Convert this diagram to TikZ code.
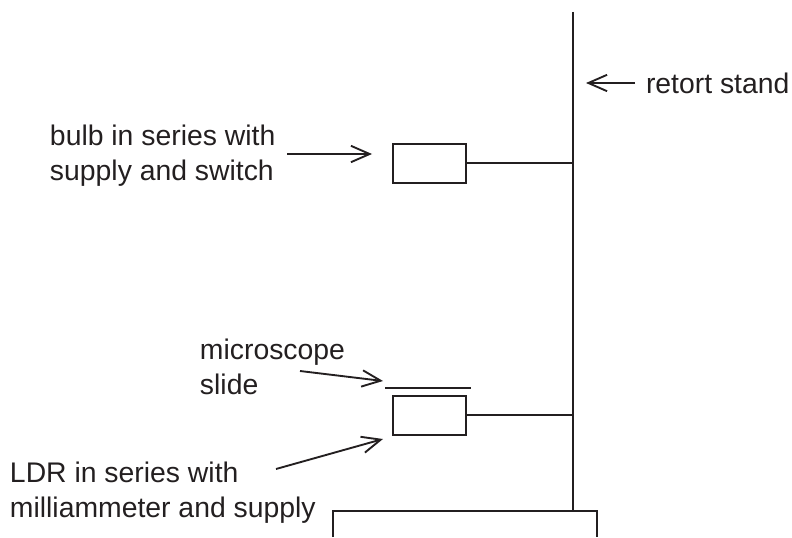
\documentclass[tikz,border=0pt]{standalone}
\usepackage{fontspec}
\setmainfont{Liberation Sans}
\usetikzlibrary{arrows.meta}
\definecolor{ink}{HTML}{231F20}
\tikzset{
	lbl/.style={inner sep=0pt, align=left, text=ink, font=\fontsize{24.2}{30}\selectfont},
	box/.style={draw=ink, line width=1.7pt, minimum width=2.19cm, minimum height=1.19cm, inner sep=0pt},
	pointer/.style={line width=1.6pt, -{Straight Barb[length=16pt,width=14pt]}}
}
\begin{document}
\begin{tikzpicture}[x=0.03cm, y=-0.03cm, line width=1.7pt, color=ink]
	%%%%% START %%%%%
	\useasboundingbox (0, 0) rectangle (792, 537);
	
	\coordinate (standtop) at (573, 12);
	\coordinate (standfoot) at (573, 511);
	\draw (standtop) -- (standfoot);
	
	\node[box] (bulb) at (429, 163.5) {};
	\coordinate (bulbclamp) at (573, 163);
	\draw (bulb.east |- bulbclamp) -- (bulbclamp);
	
	\node[box] (ldr) at (429, 415.5) {};
	\coordinate (ldrclamp) at (573, 415);
	\draw (ldr.east |- ldrclamp) -- (ldrclamp);
	
	\coordinate (slideleft) at (385, 388);
	\coordinate (slideright) at (471, 388);
	\draw (slideleft) -- (slideright);
	
	\coordinate (baseleft) at (333, 537);
	\coordinate (basetopleft) at (333, 511);
	\coordinate (basetopright) at (597, 511);
	\coordinate (baseright) at (597, 537);
	\draw (baseleft) -- (basetopleft) -- (basetopright) -- (baseright);
	
	\node[lbl, anchor=west] (standlbl) at (645, 83) {retort stand};
	\coordinate (standpt) at (586, 83);
	\draw[pointer] (standlbl.west) ++(-10, 0) -- (standpt);
	
	\node[lbl, anchor=west] (bulblbl) at (49, 156) {bulb in series with\\supply and switch};
	\coordinate (bulbtail) at (287, 154);
	\coordinate (bulbpt) at (372, 154);
	\draw[pointer] (bulbtail) -- (bulbpt);
	
	\node[lbl, anchor=west] (slidelbl) at (199, 367) {microscope\\slide};
	\coordinate (slidetail) at (300, 371);
	\coordinate (slidept) at (383, 381);
	\draw[pointer] (slidetail) -- (slidept);
	
	\node[lbl, anchor=west] (ldrlbl) at (9, 492.5) {LDR in series with\\milliammeter and supply};
	\coordinate (ldrtail) at (276, 469);
	\coordinate (ldrpt) at (383, 439);
	\draw[pointer] (ldrtail) -- (ldrpt);
	
	%%%%% END %%%%%
\end{tikzpicture}
\end{document}
